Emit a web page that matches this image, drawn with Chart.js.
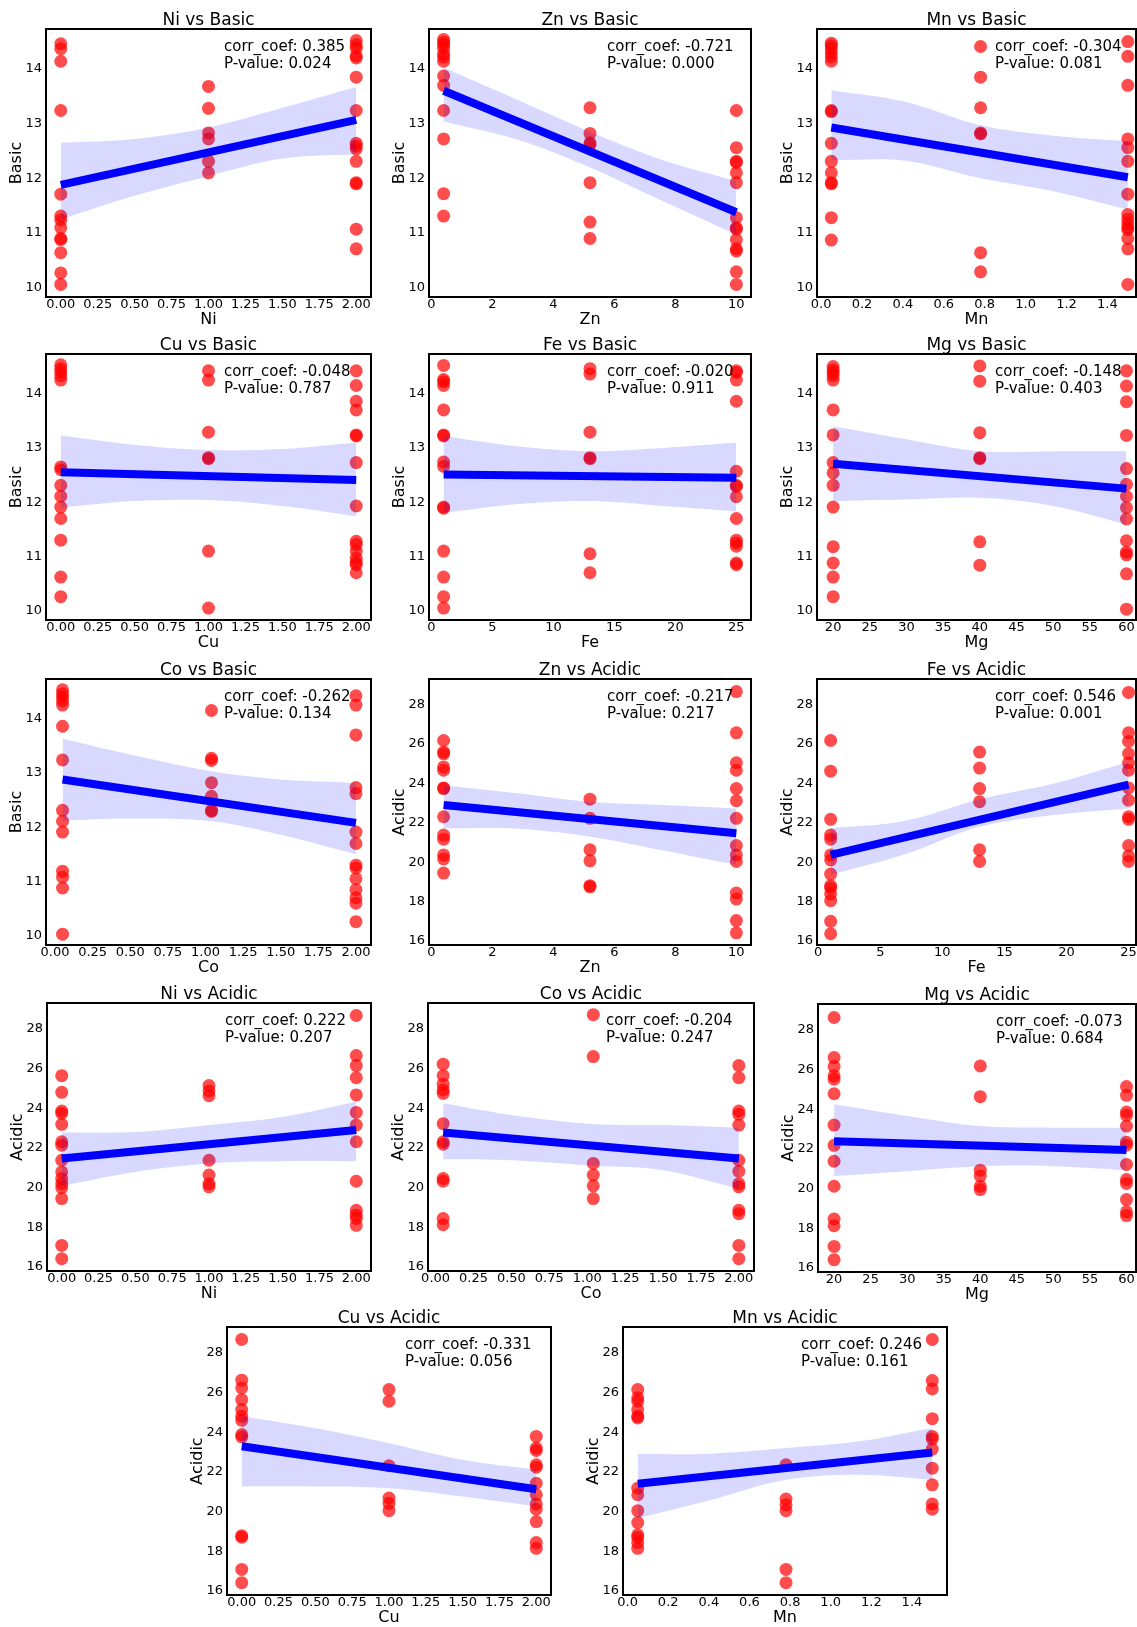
<!DOCTYPE html>
<html>
<head>
<meta charset="utf-8">
<script src="https://cdn.jsdelivr.net/npm/chart.js@4.4.0/dist/chart.umd.min.js"></script>
<style>
  html, body { margin: 0; padding: 0; background: #fff; overflow: hidden; }
  #fig { position: relative; width: 1137px; height: 1627px; }
  .panel { position: absolute; }
</style>
</head>
<body>
<div id="fig"></div>
<script>
// x levels of each element
const niLevels = [0, 1, 2];
const znLevels = [0.4, 5.2, 10];
const mnLevels = [0.05, 0.78, 1.5];
const cuLevels = [0, 1, 2];
const feLevels = [1, 13, 25];
const mgLevels = [20, 40, 60];
const coLevels = [0.05, 1.04, 2];

// x positions where the confidence band was read
const niBandX = [0, 0.5, 1, 1.5, 2];
const znBandX = [0.4, 2.8, 5.2, 7.6, 10];
const mnBandX = [0.05, 0.41, 0.78, 1.14, 1.5];
const cuBandX = [0, 0.5, 1, 1.5, 2];
const feBandX = [1, 7, 13, 19, 25];
const mgBandX = [20, 30, 40, 50, 60];
const coBandX = [0.05, 0.5, 1.04, 1.5, 2];

// tick labels
const quarterTicks = [0, 0.25, 0.5, 0.75, 1, 1.25, 1.5, 1.75, 2];
const znTicks = [0, 2, 4, 6, 8, 10];
const mnTicks = [0, 0.2, 0.4, 0.6, 0.8, 1.0, 1.2, 1.4];
const feTicks = [0, 5, 10, 15, 20, 25];
const mgTicks = [20, 25, 30, 35, 40, 45, 50, 55, 60];
const basicTicks = [10, 11, 12, 13, 14];
const acidicTicks = [16, 18, 20, 22, 24, 26, 28];

// Basic values, grouped by x level
const niBasic = [
  [14.46, 14.37, 14.14, 13.24, 11.71, 11.31, 11.24, 11.10, 10.90, 10.88, 10.64, 10.27, 10.06],
  [13.68, 13.28, 12.83, 12.72, 12.31, 12.10],
  [14.52, 14.44, 14.38, 14.24, 14.20, 13.85, 13.24, 12.64, 12.59, 12.54, 12.31, 11.92, 11.90, 11.07, 10.71]
];
const znBasic = [
  [14.54, 14.49, 14.44, 14.38, 14.27, 14.22, 14.14, 13.87, 13.70, 13.24, 12.72, 11.72, 11.31],
  [13.29, 12.82, 12.65, 12.61, 11.92, 11.20, 10.90],
  [13.24, 12.56, 12.31, 12.29, 12.10, 11.92, 11.28, 11.10, 11.07, 10.88, 10.71, 10.67, 10.29, 10.06]
];
const mnBasic = [
  [14.47, 14.43, 14.37, 14.29, 14.22, 14.14, 13.24, 13.22, 12.64, 12.31, 12.10, 11.92, 11.90, 11.28, 10.87],
  [14.41, 13.85, 13.29, 12.83, 12.81, 10.64, 10.29],
  [14.50, 14.23, 13.70, 12.72, 12.56, 12.31, 11.71, 11.34, 11.25, 11.17, 11.10, 11.06, 10.90, 10.71, 10.06]
];
const cuBasic = [
  [14.53, 14.46, 14.40, 14.33, 14.25, 12.65, 12.60, 12.31, 12.11, 11.91, 11.70, 11.30, 10.62, 10.26],
  [14.42, 14.25, 13.29, 12.82, 12.80, 11.10, 10.05],
  [14.42, 14.15, 13.86, 13.70, 13.24, 13.22, 12.73, 11.93, 11.28, 11.22, 11.10, 10.97, 10.89, 10.85, 10.70]
];
const feBasic = [
  [14.52, 14.26, 14.22, 14.15, 13.70, 13.24, 13.22, 12.74, 12.66, 11.91, 11.89, 11.10, 10.62, 10.26, 10.05],
  [14.46, 14.36, 13.29, 12.82, 12.80, 11.05, 10.70],
  [14.42, 14.39, 14.25, 13.86, 12.57, 12.31, 12.29, 12.10, 11.70, 11.30, 11.25, 11.19, 10.88, 10.85]
];
const mgBasic = [
  [14.50, 14.44, 14.39, 14.33, 14.25, 13.70, 13.24, 12.73, 12.54, 12.31, 11.91, 11.18, 10.88, 10.62, 10.26],
  [14.51, 14.23, 13.28, 12.82, 12.80, 11.27, 10.84],
  [14.42, 14.14, 13.85, 13.23, 12.62, 12.33, 12.11, 11.90, 11.69, 11.29, 11.08, 11.03, 10.68, 10.03]
];
const coBasic = [
  [14.53, 14.46, 14.40, 14.33, 14.25, 13.86, 13.24, 12.31, 12.11, 11.91, 11.19, 11.08, 10.88, 10.03],
  [14.15, 13.27, 13.23, 12.82, 12.57, 12.31, 12.29],
  [14.42, 14.25, 13.70, 12.73, 12.62, 11.91, 11.70, 11.30, 11.25, 11.05, 10.85, 10.70, 10.60, 10.26]
];

// Acidic values, grouped by x level
const znAcidic = [
  [26.18, 25.59, 25.50, 24.84, 24.67, 23.77, 23.74, 22.31, 21.38, 21.17, 20.37, 20.17, 19.45],
  [23.20, 22.23, 20.63, 20.07, 18.81, 18.75],
  [28.66, 26.57, 25.05, 24.67, 23.74, 23.12, 22.23, 20.85, 20.37, 20.04, 18.44, 18.13, 17.04, 16.42]
];
const feAcidic = [
  [26.18, 24.62, 22.18, 21.38, 21.17, 20.37, 20.12, 19.40, 18.81, 18.69, 18.39, 18.05, 17.00, 16.37],
  [25.59, 24.78, 23.74, 23.07, 20.63, 20.04],
  [28.62, 26.57, 26.13, 25.51, 25.05, 24.67, 23.77, 23.15, 22.31, 22.18, 20.85, 20.32, 20.04]
];
const niAcidic = [
  [25.64, 24.80, 23.86, 23.74, 23.19, 22.31, 22.14, 21.38, 20.79, 20.46, 20.20, 19.99, 19.45, 17.09, 16.42],
  [25.14, 24.87, 24.63, 21.38, 20.63, 20.20, 20.04],
  [28.67, 26.65, 26.15, 25.54, 24.67, 23.79, 23.15, 22.31, 20.32, 18.86, 18.61, 18.44, 18.10]
];
const coAcidic = [
  [26.22, 25.64, 25.21, 24.92, 24.75, 23.22, 22.31, 22.19, 20.46, 20.32, 18.44, 18.13],
  [28.71, 26.60, 21.22, 20.63, 20.09, 19.45],
  [26.15, 25.54, 23.86, 23.69, 23.15, 21.38, 20.82, 20.20, 20.04, 18.86, 18.69, 17.09, 16.42]
];
const mgAcidic = [
  [28.62, 26.60, 26.15, 25.68, 25.51, 24.78, 23.20, 22.18, 21.38, 20.12, 18.47, 18.13, 17.09, 16.42],
  [26.18, 24.63, 20.93, 20.63, 20.12, 19.95],
  [25.14, 24.70, 23.86, 23.69, 23.15, 22.34, 22.19, 21.22, 20.46, 20.26, 19.45, 18.83, 18.64]
];
const cuAcidic = [
  [28.67, 26.62, 26.23, 25.64, 25.14, 24.80, 24.60, 23.88, 23.76, 18.79, 18.71, 17.09, 16.42],
  [26.15, 25.56, 22.31, 20.68, 20.42, 20.05],
  [23.79, 23.20, 23.08, 22.36, 22.24, 21.43, 20.85, 20.39, 20.12, 19.50, 18.44, 18.15]
];
const mnAcidic = [
  [26.15, 25.73, 25.56, 25.14, 24.80, 24.72, 21.18, 20.85, 20.05, 19.45, 18.83, 18.71, 18.44, 18.15],
  [22.36, 20.63, 20.34, 20.05, 17.09, 16.42],
  [28.67, 26.60, 26.18, 24.68, 23.79, 23.66, 23.15, 22.19, 21.35, 20.39, 20.12]
];

// regression line at first and last level
const niBasicFit = [11.88, 13.07];
const znBasicFit = [13.60, 11.38];
const mnBasicFit = [12.93, 12.02];
const cuBasicFit = [12.55, 12.41];
const feBasicFit = [12.51, 12.45];
const mgBasicFit = [12.71, 12.25];
const coBasicFit = [12.88, 12.08];
const znAcidicFit = [22.90, 21.47];
const feAcidicFit = [20.37, 23.94];
const niAcidicFit = [21.47, 22.90];
const coAcidicFit = [22.78, 21.47];
const mgAcidicFit = [22.39, 21.94];
const cuAcidicFit = [23.29, 21.13];
const mnAcidicFit = [21.40, 22.98];

// confidence band, lower and upper edge at the band x positions
const niBasicLow = [11.25, 11.68, 12.04, 12.36, 12.44];
const niBasicHigh = [12.65, 12.72, 12.93, 13.29, 13.67];
const znBasicLow = [13.04, 12.71, 12.20, 11.58, 10.97];
const znBasicHigh = [14.02, 13.44, 12.85, 12.33, 11.95];
const mnBasicLow = [12.33, 12.32, 12.00, 11.76, 11.43];
const mnBasicHigh = [13.61, 13.40, 12.97, 12.78, 12.68];
const cuBasicLow = [11.90, 12.02, 12.04, 11.93, 11.74];
const cuBasicHigh = [13.23, 13.06, 12.96, 12.98, 13.10];
const feBasicLow = [11.80, 11.96, 12.02, 11.93, 11.83];
const feBasicHigh = [13.22, 13.03, 12.94, 13.00, 13.10];
const mgBasicLow = [12.02, 12.05, 12.08, 11.93, 11.59];
const mgBasicHigh = [13.40, 13.16, 12.94, 12.94, 12.94];
const coBasicLow = [12.12, 12.16, 12.11, 11.86, 11.50];
const coBasicHigh = [13.63, 13.34, 13.03, 12.88, 12.82];
const znAcidicLow = [21.72, 21.70, 21.30, 20.60, 19.87];
const znAcidicHigh = [23.91, 23.50, 23.07, 22.90, 22.73];
const feAcidicLow = [19.36, 20.40, 21.80, 22.40, 22.73];
const feAcidicHigh = [21.72, 22.10, 23.20, 24.00, 25.09];
const niAcidicLow = [20.09, 20.79, 21.22, 21.33, 21.33];
const niAcidicHigh = [22.78, 22.80, 23.15, 23.57, 24.33];
const coAcidicLow = [21.43, 21.38, 21.10, 20.88, 19.95];
const coAcidicHigh = [24.25, 23.66, 23.20, 23.15, 23.02];
const mgAcidicLow = [20.63, 20.88, 21.13, 21.13, 20.93];
const mgAcidicHigh = [24.25, 23.66, 23.15, 23.07, 23.07];
const cuAcidicLow = [21.27, 21.27, 21.18, 20.76, 20.26];
const cuAcidicHigh = [24.80, 24.20, 23.45, 22.61, 22.11];
const mnAcidicLow = [19.67, 20.59, 21.60, 21.86, 21.60];
const mnAcidicHigh = [22.90, 22.92, 23.20, 23.54, 24.21];

// corr_coef and P-value
const niBasicStats = ['0.385', '0.024'];
const znBasicStats = ['-0.721', '0.000'];
const mnBasicStats = ['-0.304', '0.081'];
const cuBasicStats = ['-0.048', '0.787'];
const feBasicStats = ['-0.020', '0.911'];
const mgBasicStats = ['-0.148', '0.403'];
const coBasicStats = ['-0.262', '0.134'];
const znAcidicStats = ['-0.217', '0.217'];
const feAcidicStats = ['0.546', '0.001'];
const niAcidicStats = ['0.222', '0.207'];
const coAcidicStats = ['-0.204', '0.247'];
const mgAcidicStats = ['-0.073', '0.684'];
const cuAcidicStats = ['-0.331', '0.056'];
const mnAcidicStats = ['0.246', '0.161'];

Chart.defaults.font.family = "'DejaVu Sans', sans-serif";
Chart.defaults.color = '#000';

const basicRange = [9.83, 14.73];
const acidicRange = [15.8, 29.3];

// frame = [left, top, width, height] of the axes box on the page
const panels = [
  { el: 'Ni', y: 'Basic', lv: niLevels, v: niBasic, fit: niBasicFit, bx: niBandX, lo: niBasicLow, hi: niBasicHigh, st: niBasicStats, xr: [-0.1, 2.1], xt: quarterTicks, dec: 2, frame: [46, 29, 325, 268] },
  { el: 'Zn', y: 'Basic', lv: znLevels, v: znBasic, fit: znBasicFit, bx: znBandX, lo: znBasicLow, hi: znBasicHigh, st: znBasicStats, xr: [-0.08, 10.48], xt: znTicks, dec: 0, frame: [429, 29, 322, 268] },
  { el: 'Mn', y: 'Basic', lv: mnLevels, v: mnBasic, fit: mnBasicFit, bx: mnBandX, lo: mnBasicLow, hi: mnBasicHigh, st: mnBasicStats, xr: [-0.02, 1.54], xt: mnTicks, dec: 1, frame: [817, 29, 319, 268] },
  { el: 'Cu', y: 'Basic', lv: cuLevels, v: cuBasic, fit: cuBasicFit, bx: cuBandX, lo: cuBasicLow, hi: cuBasicHigh, st: cuBasicStats, xr: [-0.1, 2.1], xt: quarterTicks, dec: 2, frame: [46, 354, 325, 266] },
  { el: 'Fe', y: 'Basic', lv: feLevels, v: feBasic, fit: feBasicFit, bx: feBandX, lo: feBasicLow, hi: feBasicHigh, st: feBasicStats, xr: [-0.2, 26.2], xt: feTicks, dec: 0, frame: [429, 354, 322, 266] },
  { el: 'Mg', y: 'Basic', lv: mgLevels, v: mgBasic, fit: mgBasicFit, bx: mgBandX, lo: mgBasicLow, hi: mgBasicHigh, st: mgBasicStats, xr: [17.8, 61.3], xt: mgTicks, dec: 0, frame: [817, 354, 319, 266] },
  { el: 'Co', y: 'Basic', lv: coLevels, v: coBasic, fit: coBasicFit, bx: coBandX, lo: coBasicLow, hi: coBasicHigh, st: coBasicStats, xr: [-0.06, 2.1], xt: quarterTicks, dec: 2, frame: [46, 679, 325, 266] },
  { el: 'Zn', y: 'Acidic', lv: znLevels, v: znAcidic, fit: znAcidicFit, bx: znBandX, lo: znAcidicLow, hi: znAcidicHigh, st: znAcidicStats, xr: [-0.08, 10.48], xt: znTicks, dec: 0, frame: [429, 679, 322, 266] },
  { el: 'Fe', y: 'Acidic', lv: feLevels, v: feAcidic, fit: feAcidicFit, bx: feBandX, lo: feAcidicLow, hi: feAcidicHigh, st: feAcidicStats, xr: [-0.1, 25.6], xt: feTicks, dec: 0, frame: [817, 679, 319, 266] },
  { el: 'Ni', y: 'Acidic', lv: niLevels, v: niAcidic, fit: niAcidicFit, bx: niBandX, lo: niAcidicLow, hi: niAcidicHigh, st: niAcidicStats, xr: [-0.1, 2.1], xt: quarterTicks, dec: 2, frame: [47, 1003, 324, 268] },
  { el: 'Co', y: 'Acidic', lv: coLevels, v: coAcidic, fit: coAcidicFit, bx: coBandX, lo: coAcidicLow, hi: coAcidicHigh, st: coAcidicStats, xr: [-0.05, 2.1], xt: quarterTicks, dec: 2, frame: [428, 1003, 326, 268] },
  { el: 'Mg', y: 'Acidic', lv: mgLevels, v: mgAcidic, fit: mgAcidicFit, bx: mgBandX, lo: mgAcidicLow, hi: mgAcidicHigh, st: mgAcidicStats, xr: [17.8, 61.3], xt: mgTicks, dec: 0, frame: [818, 1004, 318, 268] },
  { el: 'Cu', y: 'Acidic', lv: cuLevels, v: cuAcidic, fit: cuAcidicFit, bx: cuBandX, lo: cuAcidicLow, hi: cuAcidicHigh, st: cuAcidicStats, xr: [-0.1, 2.1], xt: quarterTicks, dec: 2, frame: [227, 1327, 324, 268] },
  { el: 'Mn', y: 'Acidic', lv: mnLevels, v: mnAcidic, fit: mnAcidicFit, bx: mnBandX, lo: mnAcidicLow, hi: mnAcidicHigh, st: mnAcidicStats, xr: [-0.0225, 1.5725], xt: mnTicks, dec: 1, frame: [623, 1327, 324, 268] }
];

// axes box plus the corr_coef / P-value note
const framePlugin = {
  id: 'frame',
  afterDatasetsDraw(chart, args, opts) {
    const { ctx, chartArea: a } = chart;
    ctx.save();
    ctx.font = "15px 'DejaVu Sans'";
    ctx.fillStyle = '#000';
    ctx.textBaseline = 'middle';
    ctx.textAlign = 'left';
    ctx.fillText('corr_coef: ' + opts.stats[0], a.left + 178, a.top + 18);
    ctx.fillText('P-value: ' + opts.stats[1], a.left + 178, a.top + 35);
    ctx.lineWidth = 2;
    ctx.strokeStyle = '#000';
    ctx.strokeRect(a.left, a.top, a.right - a.left, a.bottom - a.top);
    ctx.restore();
  }
};

const fig = document.getElementById('fig');
const LEFT = 46, TOP = 24, BOTTOM = 32, RIGHT = 16;

panels.forEach(p => {
  const [fl, ft, fw, fh] = p.frame;
  const div = document.createElement('div');
  div.className = 'panel';
  div.style.left = (fl - LEFT) + 'px';
  div.style.top = (ft - TOP) + 'px';
  const canvas = document.createElement('canvas');
  canvas.width = LEFT + fw + RIGHT;
  canvas.height = TOP + fh + BOTTOM;
  div.appendChild(canvas);
  fig.appendChild(div);

  const pts = p.lv.flatMap((x, i) => p.v[i].map(y => ({ x, y })));
  const yTicks = p.y === 'Basic' ? basicTicks : acidicTicks;
  const yr = p.y === 'Basic' ? basicRange : acidicRange;

  new Chart(canvas, {
    type: 'scatter',
    data: {
      datasets: [
        {
          type: 'line',
          data: [{ x: p.lv[0], y: p.fit[0] }, { x: p.lv[2], y: p.fit[1] }],
          borderColor: '#0000ff', borderWidth: 8, pointRadius: 0, fill: false
        },
        {
          type: 'line',
          data: p.bx.map((x, i) => ({ x, y: p.hi[i] })),
          borderColor: 'transparent', borderWidth: 0, pointRadius: 0,
          backgroundColor: 'rgba(0,0,255,0.15)', fill: '+1', tension: 0.35
        },
        {
          type: 'line',
          data: p.bx.map((x, i) => ({ x, y: p.lo[i] })),
          borderColor: 'transparent', borderWidth: 0, pointRadius: 0, fill: false, tension: 0.35
        },
        {
          data: pts,
          backgroundColor: 'rgba(255,0,0,0.7)', borderWidth: 0, pointRadius: 6.5
        }
      ]
    },
    options: {
      responsive: false,
      animation: false,
      events: [],
      layout: { padding: { left: 0, top: 0, right: RIGHT, bottom: 0 } },
      plugins: {
        legend: { display: false },
        tooltip: { enabled: false },
        title: {
          display: true, fullSize: false, text: p.el + ' vs ' + p.y,
          font: { size: 17, weight: 'normal', lineHeight: 1 },
          color: '#000', padding: { top: 7, bottom: 0 }
        },
        frame: { stats: p.st }
      },
      scales: {
        x: {
          type: 'linear', min: p.xr[0], max: p.xr[1],
          afterBuildTicks: ax => { ax.ticks = p.xt.map(v => ({ value: v })); },
          afterFit: ax => { ax.height = BOTTOM; },
          ticks: { callback: v => Number(v).toFixed(p.dec), font: { size: 13 }, color: '#000', padding: 0, maxRotation: 0, autoSkip: false },
          grid: { display: false, drawTicks: false },
          border: { display: false },
          title: { display: true, text: p.el, font: { size: 16, lineHeight: 1 }, color: '#000', padding: { top: 0, bottom: 1 } }
        },
        y: {
          type: 'linear', min: yr[0], max: yr[1],
          afterBuildTicks: ax => { ax.ticks = yTicks.map(v => ({ value: v })); },
          afterFit: ax => { ax.width = LEFT; },
          ticks: { callback: v => String(v), font: { size: 13 }, color: '#000', padding: 4, autoSkip: false },
          grid: { display: false, drawTicks: false },
          border: { display: false },
          title: { display: true, text: p.y, font: { size: 16, lineHeight: 1 }, color: '#000', padding: { top: 9, bottom: 0 } }
        }
      }
    },
    plugins: [framePlugin]
  });
});
</script>
</body>
</html>
